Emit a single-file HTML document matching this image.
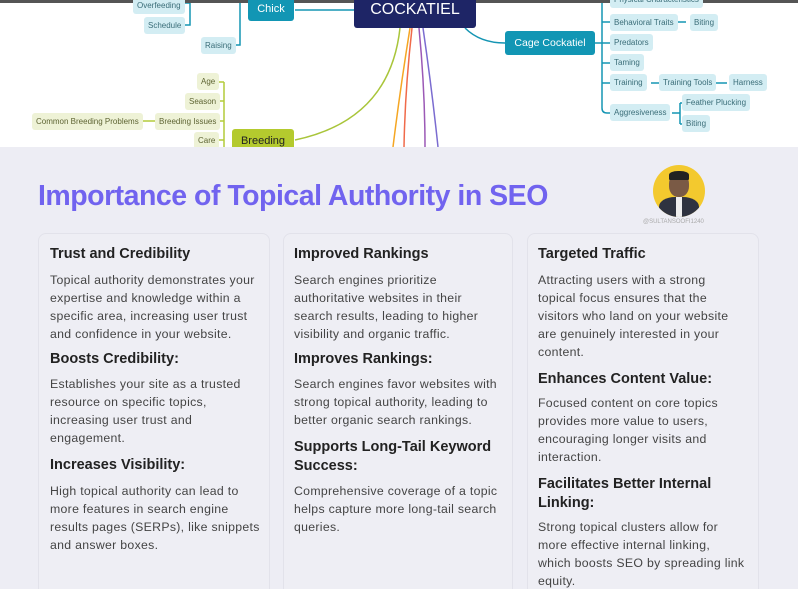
<!DOCTYPE html>
<html><head><meta charset="utf-8"><style>
*{margin:0;padding:0;box-sizing:border-box}
html,body{width:798px;height:589px;overflow:hidden}
body{background:#ededf4;font-family:"Liberation Sans",sans-serif;position:relative}
.top{position:absolute;left:0;top:0;width:798px;height:147px;background:#fff;overflow:hidden}
.bar{position:absolute;left:0;top:0;width:798px;height:3px;background:#555}
.n{position:absolute;font-size:8px;color:#3a6d78;background:#d3edf3;border-radius:3px;padding:0 4px;height:17px;line-height:17px;white-space:nowrap}
.g{position:absolute;font-size:8px;color:#5d6332;background:#eef2d6;border-radius:3px;padding:0 4px;height:17px;line-height:17px;white-space:nowrap}
.card{position:absolute;top:233px;height:380px;background:#eeeef4;border:1.5px solid #e2e2ea;border-radius:8px}
.t{position:absolute;font-size:14.5px;font-weight:bold;color:#222;white-space:nowrap;line-height:19px}
.b{position:absolute;font-size:12.3px;color:#444;white-space:nowrap;line-height:18px;letter-spacing:0.3px}
</style></head><body>
<div class="top">
<svg width="798" height="147" style="position:absolute;left:0;top:0" fill="none">
<path d="M170 3 H190 M170 25 H190 V2 M222 45 H240 V3" stroke="#1595b3" stroke-width="1.5"/>
<path d="M295 10 H360" stroke="#1595b3" stroke-width="1.5"/>
<path d="M465 28 Q480 43 505 43" stroke="#1595b3" stroke-width="1.5"/>
<path d="M595 43 H610 M602 3 V108 Q602 113 607 113 H612 M602 22 H612 M602 83 H612 M602 63 H612 M676 22 H686 M651 83 H660 M715 83 H727 M672 113 H680 M680 103 V124 M680 103 H684 M680 124 H684" stroke="#1595b3" stroke-width="1.5"/>
<path d="M215 82 H224 M215 101 H224 M215 121 H224 M215 140 H224 M224 82 V147 M139 121 H155" stroke="#b3cc3a" stroke-width="1.5"/>
<path d="M400 28 Q390 120 295 140" stroke="#a9c53a" stroke-width="1.5"/>
<path d="M410 28 Q400 90 393 147" stroke="#f5a623" stroke-width="1.5"/>
<path d="M412 28 Q405 90 404 147" stroke="#f06a4a" stroke-width="1.5"/>
<path d="M419 28 Q425 90 425 147" stroke="#9b59b6" stroke-width="1.5"/>
<path d="M423 28 Q432 90 438 147" stroke="#7b6cd0" stroke-width="1.5"/>
</svg>
<div class="bar"></div>
<div class="n" style="left:133px;top:-3px">Overfeeding</div>
<div class="n" style="left:144px;top:17px">Schedule</div>
<div class="n" style="left:201px;top:37px">Raising</div>
<div style="position:absolute;left:248px;top:-3px;width:46px;height:24px;background:#1296b4;color:#fff;border-radius:3px;font-size:11px;text-align:center;line-height:24px">Chick</div>
<div style="position:absolute;left:354px;top:-3px;width:122px;height:31px;background:#1e2566;color:#fff;border-radius:3px;font-size:16px;text-align:center;line-height:26px">COCKATIEL</div>
<div style="position:absolute;left:505px;top:31px;width:90px;height:24px;background:#1296b4;color:#fff;border-radius:3px;font-size:10.5px;text-align:center;line-height:24px">Cage Cockatiel</div>
<div class="n" style="left:610px;top:-9px">Physical Characteristics</div>
<div class="n" style="left:610px;top:14px">Behavioral Traits</div>
<div class="n" style="left:690px;top:14px">Biting</div>
<div class="n" style="left:610px;top:34px">Predators</div>
<div class="n" style="left:610px;top:54px">Taming</div>
<div class="n" style="left:610px;top:74px">Training</div>
<div class="n" style="left:659px;top:74px">Training Tools</div>
<div class="n" style="left:729px;top:74px">Harness</div>
<div class="n" style="left:610px;top:104px">Aggresiveness</div>
<div class="n" style="left:682px;top:94px">Feather Plucking</div>
<div class="n" style="left:682px;top:115px">Biting</div>
<div class="g" style="left:197px;top:73px">Age</div>
<div class="g" style="left:185px;top:93px">Season</div>
<div class="g" style="left:155px;top:113px">Breeding Issues</div>
<div class="g" style="left:32px;top:113px">Common Breeding Problems</div>
<div class="g" style="left:194px;top:132px">Care</div>
<div style="position:absolute;left:232px;top:129px;width:62px;height:24px;background:#b4ca2e;color:#222;border-radius:3px;font-size:11px;text-align:center;line-height:24px">Breeding</div>
</div>
<div style="position:absolute;left:38px;top:180px;font-size:28.5px;font-weight:bold;color:#7163ef;white-space:nowrap;letter-spacing:-0.5px">Importance of Topical Authority in SEO</div>
<div style="position:absolute;left:653px;top:165px;width:52px;height:52px;border-radius:50%;background:#f3c92e;overflow:hidden">
<div style="position:absolute;left:16px;top:8px;width:20px;height:24px;border-radius:45%;background:#7a5a45"></div>
<div style="position:absolute;left:16px;top:6px;width:20px;height:9px;border-radius:45% 45% 10% 10%;background:#222"></div>
<div style="position:absolute;left:6px;top:32px;width:40px;height:24px;border-radius:40% 40% 0 0;background:#2f3340"></div>
<div style="position:absolute;left:23px;top:32px;width:6px;height:20px;background:#eee"></div>
</div>
<div style="position:absolute;left:643px;top:219px;font-size:6px;color:#aaa;white-space:nowrap">@SULTANSOOFI1240</div>
<div class="card" style="left:38px;width:232px"></div>
<div class="card" style="left:283px;width:230px"></div>
<div class="card" style="left:527px;width:232px"></div>

<div class="t" style="left:50px;top:245px">Trust and Credibility</div>
<div class="b" style="left:50px;top:271px">Topical authority demonstrates your<br>expertise and knowledge within a<br>specific area, increasing user trust<br>and confidence in your website.</div>
<div class="t" style="left:50px;top:350px">Boosts Credibility:</div>
<div class="b" style="left:50px;top:375px">Establishes your site as a trusted<br>resource on specific topics,<br>increasing user trust and<br>engagement.</div>
<div class="t" style="left:50px;top:456px">Increases Visibility:</div>
<div class="b" style="left:50px;top:482px">High topical authority can lead to<br>more features in search engine<br>results pages (SERPs), like snippets<br>and answer boxes.</div>

<div class="t" style="left:294px;top:245px">Improved Rankings</div>
<div class="b" style="left:294px;top:271px">Search engines prioritize<br>authoritative websites in their<br>search results, leading to higher<br>visibility and organic traffic.</div>
<div class="t" style="left:294px;top:350px">Improves Rankings:</div>
<div class="b" style="left:294px;top:375px">Search engines favor websites with<br>strong topical authority, leading to<br>better organic search rankings.</div>
<div class="t" style="left:294px;top:438px">Supports Long-Tail Keyword<br>Success:</div>
<div class="b" style="left:294px;top:482px">Comprehensive coverage of a topic<br>helps capture more long-tail search<br>queries.</div>

<div class="t" style="left:538px;top:245px">Targeted Traffic</div>
<div class="b" style="left:538px;top:271px">Attracting users with a strong<br>topical focus ensures that the<br>visitors who land on your website<br>are genuinely interested in your<br>content.</div>
<div class="t" style="left:538px;top:370px">Enhances Content Value:</div>
<div class="b" style="left:538px;top:394px">Focused content on core topics<br>provides more value to users,<br>encouraging longer visits and<br>interaction.</div>
<div class="t" style="left:538px;top:475px">Facilitates Better Internal<br>Linking:</div>
<div class="b" style="left:538px;top:518px">Strong topical clusters allow for<br>more effective internal linking,<br>which boosts SEO by spreading link<br>equity.</div>
</body></html>
